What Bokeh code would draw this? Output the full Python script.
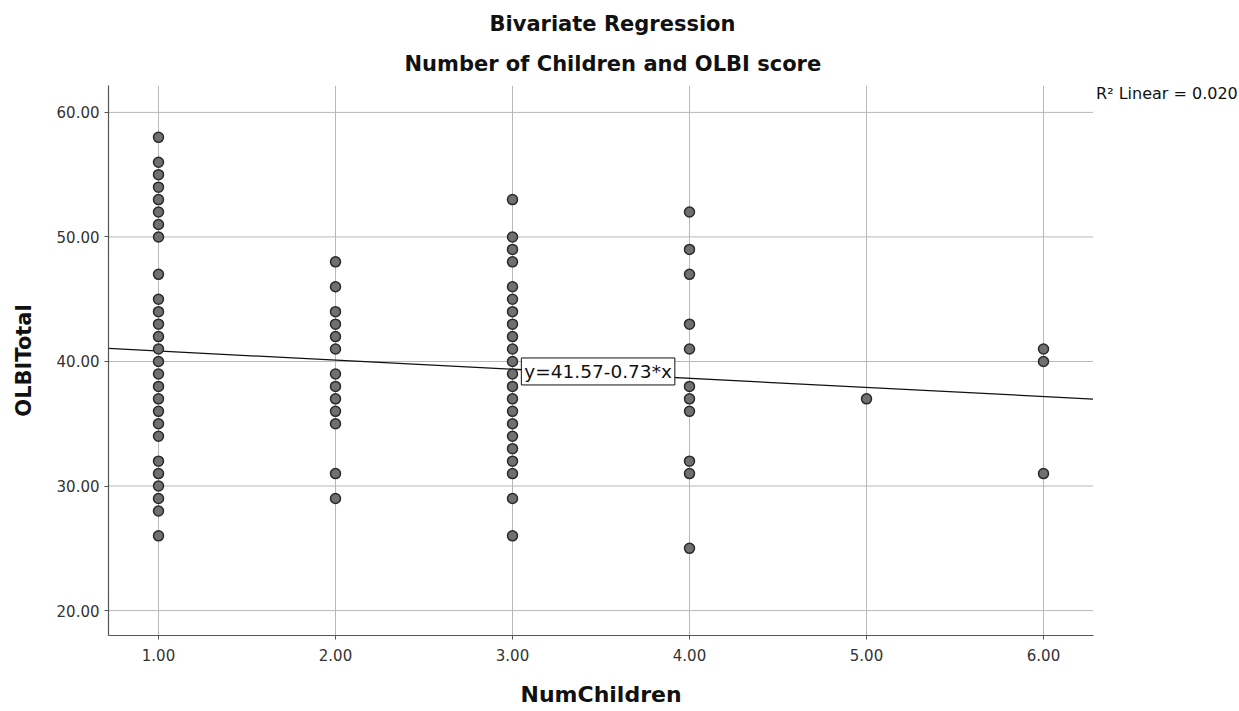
from bokeh.plotting import figure
from bokeh.models import (ColumnDataSource, FixedTicker, PrintfTickFormatter,
                          Range1d, Title, Label)
from bokeh.embed import file_html
from bokeh.resources import INLINE

# ---- data ----
x1 = [58, 56, 55, 54, 53, 52, 51, 50, 47, 45, 44, 43, 42, 41, 40, 39, 38,
      37, 36, 35, 34, 32, 31, 30, 29, 28, 26]
x2 = [48, 46, 44, 43, 42, 41, 39, 38, 37, 36, 35, 31, 29]
x3 = [53, 50, 49, 48, 46, 45, 44, 43, 42, 41, 40, 39, 38, 37, 36, 35, 34,
      33, 32, 31, 29, 26]
x4 = [52, 49, 47, 43, 41, 38, 37, 36, 32, 31, 25]
x5 = [37]
x6 = [41, 40, 31]
groups = [1, 2, 3, 4, 5, 6]
values_by_group = [x1, x2, x3, x4, x5, x6]

intercept = 41.57
slope = -0.73
r2_text = "R\u00b2 Linear = 0.020"
eq_text = "y=41.57-0.73*x"

x_ticks = [1, 2, 3, 4, 5, 6]
y_ticks = [20, 30, 40, 50, 60]

title_main = "Bivariate Regression"
title_sub = "Number of Children and OLBI score"
x_label = "NumChildren"
y_label = "OLBITotal"

# ---- build ----
xs, ys = [], []
for g, vals in zip(groups, values_by_group):
    for v in vals:
        xs.append(g)
        ys.append(v)
src = ColumnDataSource(dict(x=xs, y=ys))

FONT = "DejaVu Sans"
x_lo, x_hi = 0.7175, 6.28          # visible axis extent
x_frame_hi = 0.7175 + 1131 / 177.0  # frame stretched to canvas edge for the R2 note
y_lo, y_hi = 18.0, 62.16

p = figure(width=1239, height=711, output_backend="svg", toolbar_location=None,
           x_range=Range1d(x_lo, x_frame_hi), y_range=Range1d(y_lo, y_hi),
           min_border_left=108, min_border_right=0, min_border_top=85,
           min_border_bottom=10)
p.background_fill_color = "white"
p.border_fill_color = "white"
p.outline_line_color = None

# titles: left-aligned with an offset so they sit centred over the visible axis
p.title.text = title_main
p.title.align = "left"
p.title.offset = 381
p.title.text_font = FONT
p.title.text_font_size = "21px"
p.title.text_font_style = "bold"
p.title.text_color = "#111111"
p.title.standoff = 10
p.add_layout(Title(text=title_sub, align="left", offset=296,
                   text_font=FONT, text_font_size="21px",
                   text_font_style="bold", text_color="#111111",
                   standoff=19), "above")

# grid: vertical lines via xgrid, horizontal lines drawn only up to the axis end
p.xgrid.ticker = FixedTicker(ticks=x_ticks)
p.xgrid.grid_line_color = "#b8b8b8"
p.ygrid.grid_line_color = None
p.segment(x0=[x_lo] * len(y_ticks), y0=y_ticks, x1=[x_hi] * len(y_ticks),
          y1=y_ticks, line_color="#b8b8b8", line_width=1)

# axes
p.xaxis.ticker = FixedTicker(ticks=x_ticks)
p.yaxis.ticker = FixedTicker(ticks=y_ticks)
p.xaxis.formatter = PrintfTickFormatter(format="%.2f")
p.yaxis.formatter = PrintfTickFormatter(format="%.2f")
p.xaxis.bounds = (x_lo, x_hi)
for ax in (p.xaxis, p.yaxis):
    ax.axis_line_color = "#555555"
    ax.axis_line_width = 1.2
    ax.major_tick_line_color = "#555555"
    ax.major_tick_out = 4
    ax.major_tick_in = 0
    ax.minor_tick_line_color = None
    ax.major_label_text_font = FONT
    ax.major_label_text_font_size = "15px"
    ax.major_label_text_color = "#333333"
p.yaxis.axis_label = y_label
p.yaxis.axis_label_text_font = FONT
p.yaxis.axis_label_text_font_size = "21px"
p.yaxis.axis_label_text_font_style = "bold"
p.yaxis.axis_label_text_color = "#111111"
p.xaxis.major_label_standoff = 9
p.yaxis.major_label_standoff = 5
p.yaxis.axis_label_standoff = 18

# spacer between the x axis and its title
p.add_layout(Title(text=" ", text_font_size="1px", standoff=8), "below")
# x-axis title as a bottom title so it can be centred on the visible axis
p.add_layout(Title(text=x_label, align="left", offset=412,
                   text_font=FONT, text_font_size="22px",
                   text_font_style="bold", text_color="#111111",
                   standoff=10), "below")

# regression line across the axis extent
p.line([x_lo, x_hi], [intercept + slope * x_lo, intercept + slope * x_hi],
       line_color="#111111", line_width=1.3)

# points
p.scatter("x", "y", source=src, size=10, fill_color="#707070",
          line_color="#2a2a2a", line_width=1.5)

# equation label
p.add_layout(Label(x=3.05, y=39.2, text=eq_text, text_font=FONT,
                   text_font_size="18.5px", text_color="#111111",
                   text_baseline="middle", border_line_color="#111111",
                   border_line_width=1, background_fill_color="white",
                   padding=3))

# R2 note at top right
p.add_layout(Label(x=x_hi, y=61.5, text=r2_text, text_font=FONT,
                   text_font_size="16px", text_color="#111111",
                   x_offset=3, text_baseline="alphabetic"))

open("out.html", "w").write(file_html(p, INLINE))
